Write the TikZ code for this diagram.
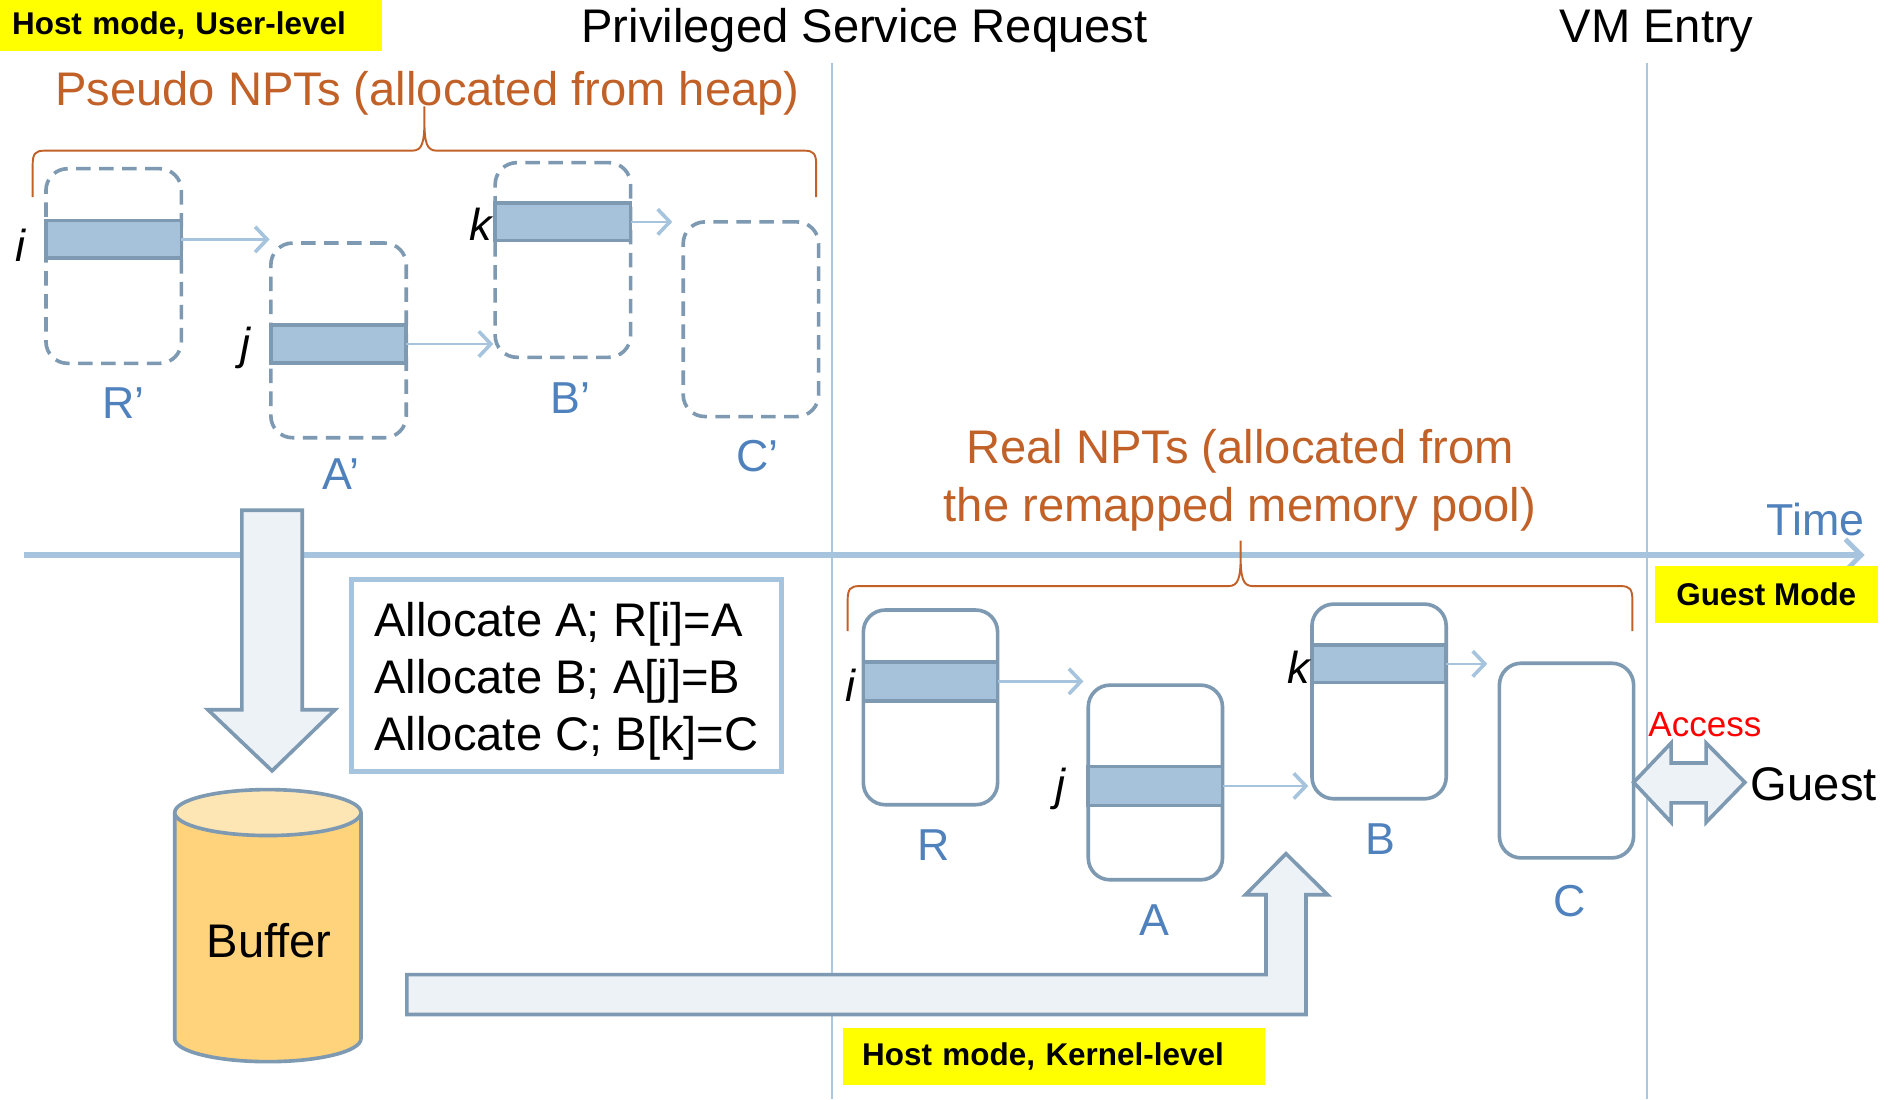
\documentclass[tikz,border=0pt]{standalone}
\usepackage{fontspec}
\setmainfont{Liberation Sans}
\usetikzlibrary{arrows.meta}
\definecolor{boxc}{RGB}{126,153,178}
\definecolor{barc}{RGB}{165,194,218}
\definecolor{linec}{RGB}{166,196,222}
\definecolor{vlc}{RGB}{170,199,224}
\definecolor{labc}{RGB}{79,129,189}
\definecolor{nptc}{RGB}{193,97,40}
\definecolor{arrfill}{RGB}{237,242,247}
\definecolor{cylbody}{RGB}{254,211,123}
\definecolor{cyltop}{RGB}{254,229,180}
\definecolor{hiyel}{RGB}{255,255,0}
\tikzset{
  every node/.style={inner sep=0pt, outer sep=0pt},
  big/.style={font=\fontsize{39}{47}\selectfont},
  tag/.style={font=\fontsize{37}{44}\selectfont, text=labc, anchor=base},
  idx/.style={font=\fontsize{37}{44}\selectfont\itshape, anchor=base},
  banner/.style={fill=hiyel, font=\fontsize{26}{30}\selectfont\bfseries, anchor=north west},
  pgbox/.style={draw=boxc, line width=3pt, rounded corners=18pt, anchor=north west},
  pseudo/.style={pgbox, dash pattern=on 12pt off 7pt, minimum width=112pt, minimum height=161pt},
  realbox/.style={pgbox, minimum width=111pt, minimum height=161pt},
  slot/.style={draw=boxc, fill=barc, line width=3pt, anchor=north west, minimum height=31pt},
  ptr/.style={draw=linec, line width=2pt, -{Straight Barb[length=10pt,width=21pt,line width=3pt]}},
  brace/.style={draw=nptc, line width=1.6pt},
  blockarrow/.style={draw=boxc, fill=arrfill, line width=3pt, line join=miter},
  phase/.style={draw=vlc, line width=1.5pt},
  axis/.style={draw=linec, line width=5pt, -{Straight Barb[length=13pt,width=26pt,line width=4pt]}},
}
\begin{document}
\begin{tikzpicture}[x=1pt, y=-1pt]
\useasboundingbox (0,0) rectangle (1568,909);

% phase separators
\coordinate (s1top) at (688,52);  \coordinate (s1bot) at (688,909);
\coordinate (s2top) at (1362,52); \coordinate (s2bot) at (1362,909);
\draw[phase] (s1top) -- (s1bot);
\draw[phase] (s2top) -- (s2bot);

% time axis
\coordinate (t0) at (20,459);
\coordinate (t1) at (1542,459);
\draw[axis] (t0) -- (t1);
\node[font=\fontsize{37}{44}\selectfont, text=labc, anchor=base] (time) at (1501.5,442.5) {Time};

% headings
\node[banner, minimum width=316pt, minimum height=42pt, text width=296pt, align=left, inner xsep=10pt] (user) at (0,0) {Host mode, User-level};
\node[big, anchor=base] (psr) at (715,35.5) {Privileged Service Request};
\node[big, anchor=base] (vme) at (1370,35.5) {VM Entry};

% pseudo NPTs
\node[big, text=nptc, anchor=base] (pseudo) at (353.5,87) {Pseudo NPTs (allocated from heap)};
\draw[brace] (27,163) -- (27,137) .. controls (27,127) and (29,124.6) .. (37,124.6) -- (341,124.6)
  .. controls (349,124.6) and (351,118) .. (351,100) -- (351,88) -- (351,100)
  .. controls (351,118) and (353,124.6) .. (361,124.6) -- (665,124.6)
  .. controls (673,124.6) and (675,127) .. (675,137) -- (675,163);

\node[pseudo] (Rp) at (38,139.5) {};
\node[pseudo] (Ap) at (224,201) {};
\node[pseudo] (Bp) at (409.5,134.5) {};
\node[pseudo] (Cp) at (565,183.5) {};
\node[slot, minimum width=112pt] (Rpbar) at (38,182.5) {};
\node[slot, minimum width=112pt] (Apbar) at (224,269) {};
\node[slot, minimum width=112pt] (Bpbar) at (409.5,168) {};

\coordinate (toAp) at (223,0);
\coordinate (toBp) at (408,0);
\coordinate (toCp) at (556,0);
\draw[ptr] (Rpbar.east) -- (Rpbar.east -| toAp);
\draw[ptr] (Apbar.east) -- (Apbar.east -| toBp);
\draw[ptr] (Bpbar.east) -- (Bpbar.east -| toCp);

\node[idx] (pi) at (16.6,216.4) {i};
\node[idx] (pj) at (203,297) {j};
\node[idx] (pk) at (397.7,199) {k};
\node[tag] (lRp) at (102,346) {R’};
\node[tag] (lAp) at (282,404.7) {A’};
\node[tag] (lBp) at (472,342) {B’};
\node[tag] (lCp) at (626.5,390) {C’};

% copy step into the buffer
\draw[blockarrow] (200,422) -- (250,422) -- (250,587) -- (277,587) -- (225,637.5) -- (172,587) -- (200,587) -- cycle;

\node[draw=linec, line width=4pt, fill=white, minimum width=355pt, minimum height=159pt] (allocbox) at (468.5,558.5) {};
\node[big, align=left] (alloc) at (468.5,563.5)
  {Allocate A; R[i]=A\\Allocate B; A[j]=B\\Allocate C; B[k]=C};

% buffer cylinder
\fill[cylbody] (144.5,672) -- (144.5,859) arc[start angle=180, end angle=360, x radius=77pt, y radius=19pt] -- (298.5,672) -- cycle;
\draw[boxc, line width=3pt] (144.5,672) -- (144.5,859) arc[start angle=180, end angle=360, x radius=77pt, y radius=19pt] -- (298.5,672);
\draw[boxc, line width=3pt, fill=cyltop] (221.5,672) ellipse [x radius=77pt, y radius=19pt];
\node[big, anchor=base] (buf) at (222.5,791.5) {Buffer};

% replay step into the real NPTs
\draw[blockarrow] (336.5,806) -- (1047,806) -- (1047,740) -- (1030,740) -- (1063.5,706) -- (1098,740) -- (1080,740) -- (1080,839) -- (336.5,839) -- cycle;

% real NPTs
\node[big, text=nptc, align=center, font=\fontsize{39}{48}\selectfont] (real) at (1025.5,397) {Real NPTs (allocated from\\the remapped memory pool)};
\draw[brace] (701,522) -- (701,497) .. controls (701,487) and (703,484.7) .. (711,484.7) -- (1016,484.7)
  .. controls (1024,484.7) and (1026,478) .. (1026,460) -- (1026,447) -- (1026,460)
  .. controls (1026,478) and (1028,484.7) .. (1036,484.7) -- (1340,484.7)
  .. controls (1348,484.7) and (1350,487) .. (1350,497) -- (1350,522);

\node[realbox] (R) at (714,504.5) {};
\node[realbox] (A) at (900,566.6) {};
\node[realbox] (B) at (1085,499.6) {};
\node[realbox] (C) at (1240,548.5) {};
\node[slot, minimum width=111pt, minimum height=32pt] (Rbar) at (714,547.5) {};
\node[slot, minimum width=111pt, minimum height=32pt] (Abar) at (900,634) {};
\node[slot, minimum width=111pt, minimum height=31pt] (Bbar) at (1085,533.5) {};

\coordinate (toA) at (896,0);
\coordinate (toB) at (1082,0);
\coordinate (toC) at (1230,0);
\draw[ptr] (Rbar.east) -- (Rbar.east -| toA);
\draw[ptr] (Abar.east) -- (Abar.east -| toB);
\draw[ptr] (Bbar.east) -- (Bbar.east -| toC);

\node[idx] (ri) at (703,580.4) {i};
\node[idx] (rj) at (877,662) {j};
\node[idx] (rk) at (1073.8,565.2) {k};
\node[tag] (lR) at (772.5,712) {R};
\node[tag] (lA) at (955,774) {A};
\node[tag] (lB) at (1141.5,707) {B};
\node[tag] (lC) at (1298,758) {C};

% guest side
\node[banner, minimum width=184pt, minimum height=47pt] (gm) at (1368.7,468.3) {Guest Mode};
\draw[blockarrow] (1351,647) -- (1382,614.5) -- (1382,631) -- (1411,631) -- (1411,614.5) -- (1443,647)
  -- (1411,680) -- (1411,664) -- (1382,664) -- (1382,680) -- cycle;
\node[font=\fontsize{29}{34}\selectfont, text=red, anchor=base] (acc) at (1410,609) {Access};
\node[big, anchor=base west] (guest) at (1448,662) {Guest};

\node[banner, minimum width=349pt, minimum height=47pt, text width=317pt, align=left, inner xsep=16pt] (kern) at (697,850) {Host mode, Kernel-level};
\end{tikzpicture}
\end{document}
